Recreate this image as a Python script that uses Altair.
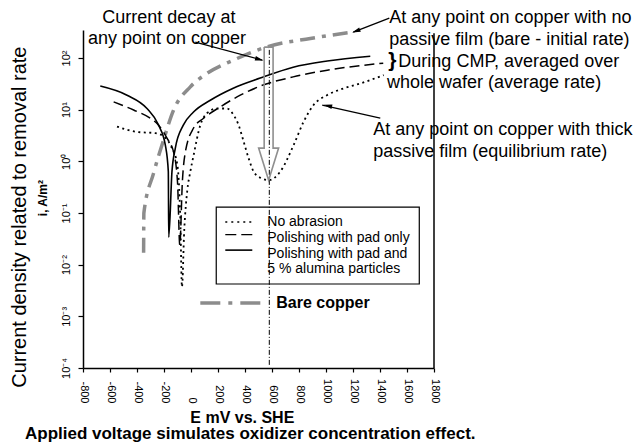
import altair as alt
import pandas as pd

FONT = "Liberation Sans"

# ---------------- data (E in mV vs. SHE, i in A/m^2) ----------------
E_no_abrasion = [-548, -400, -264, -200, -150, -101, -79, -67, -50, -27, -5, 19, 69, 118, 193, 267,
                 316, 353, 390, 427, 464, 520, 575, 661, 760, 834, 908, 1007, 1130, 1254, 1427]
i_no_abrasion = [4.7, 3.7, 3.5, 3.0, 2.0, 0.85, 0.073, 0.0037, 0.047, 0.28, 0.63, 1.3, 5.0, 8.5, 10.5, 10.5,
                 7.8, 5.0, 2.4, 1.14, 0.63, 0.47, 0.43, 0.63, 2.05, 5.8, 12.3, 19, 25.7, 32, 46.5]

E_pad_only = [-573, -425, -301, -240, -178, -129, -100, -83, -64, -42, 19, 93, 217, 365, 513, 757, 1009, 1424]
i_pad_only = [14.1, 9.8, 6.8, 5.0, 2.8, 1.5, 0.4, 0.024, 0.4, 1.5, 4.4, 6.8, 11.3, 19, 28.5, 43, 58, 79]

E_pad_alumina = [-672, -474, -326, -240, -190, -168, -165, -141, -116, -57, 17, 143, 313, 513, 757, 1009, 1328]
i_pad_alumina = [28.5, 19, 10.5, 5.0, 2.05, 0.63, 0.034, 0.63, 1.8, 5.0, 8.9, 15.2, 26, 40.7, 66, 87, 108]

E_bare = [-351, -349, -277, -203, -129, -5, 118, 316, 563, 884, 1202]
i_bare = [0.017, 0.1, 0.59, 2.6, 9.8, 27.6, 50, 91, 164, 238, 318]

x_ticks = list(range(-800, 1801, 200))
y_ticks = [1e-4, 1e-3, 1e-2, 1e-1, 1e0, 1e1, 1e2]
y_tick_labels = ["10⁻⁴", "10⁻³", "10⁻²", "10⁻¹", "10⁰", "10¹", "10²"]

series_names = ["No abrasion", "Polishing with pad only", "Polishing with pad and", "5 % alumina particles"]
bare_name = "Bare copper"

# annotation texts with anchor positions in data units (E, i)
notes_center = [("Current decay at", -164, 470), ("any point on copper", -178, 185)]
notes_left = [
    ("At any point on copper with no", 1469, 470),
    ("passive film (bare - initial rate)", 1469, 177),
    ("During CMP, averaged over", 1536, 67.3),
    ("whole wafer (average rate)", 1452, 25.7),
    ("At any point on copper with thick", 1350, 3.21),
    ("passive film (equilibrium rate)", 1350, 1.22),
]
brace = [("}", 1462, 66)]
# arrows: start, tip, head centre and head angle
arrow_lines = [
    (1, 32, 202), (1, 528, 90.6),
    (2, 1469, 589), (2, 1202, 315),
    (3, 1402, 6.86), (3, 972, 12.2),
]
arrow_heads = [(506, 94, 105), (1223, 331, 249), (1014, 11.9, 283)]

# hollow "current decay" arrow outline
decay_E = [542, 542, 501, 575, 649, 608, 608, 542]
decay_i = [162, 1.8, 1.8, 0.43, 1.8, 1.8, 162, 162]

# ---------------- scales / axes ----------------
xs = alt.Scale(domain=[-800, 1800], nice=False, zero=False)
ys = alt.Scale(type="log", domain=[1e-4, 347], nice=False)

label_arr = "[" + ",".join("'%s'" % s for s in y_tick_labels) + "]"

xaxis = alt.Axis(values=x_ticks, labelExpr="datum.value + ''", labelAngle=90, labelAlign="right",
                 labelBaseline="middle", labelPadding=31, tickSize=4, tickColor="black",
                 domainColor="black", domainWidth=1.5, tickWidth=1.2, labelFont=FONT, labelFontSize=11,
                 labelColor="black", grid=False, title=None, labelOverlap=False, labelFlush=False)
yaxis = alt.Axis(values=y_ticks, labelExpr=label_arr + "[round(log(datum.value)/LN10)+4]",
                 labelAngle=270, labelAlign="center", labelBaseline="bottom", labelPadding=7,
                 tickSize=5, tickColor="black", domainColor="black", domainWidth=1.5, tickWidth=1.2,
                 labelFont=FONT, labelFontSize=11, labelColor="black", grid=False, title=None,
                 labelOverlap=False, labelFlush=False)


def X(f="E"):
    return alt.X(f + ":Q", scale=xs, axis=xaxis)


def Y(f="i"):
    return alt.Y(f + ":Q", scale=ys, axis=yaxis)


def curve(E, I, color, width, dash=None, interp="monotone"):
    df = pd.DataFrame({"E": E, "i": I, "k": list(range(len(E)))})
    kw = dict(color=color, strokeWidth=width, interpolate=interp)
    if dash is not None:
        kw["strokeDash"] = dash
    return alt.Chart(df).mark_line(**kw).encode(x=X(), y=Y(), order="k:Q")


def texts(rows, **kw):
    df = pd.DataFrame(rows, columns=["t", "E", "i"])
    return alt.Chart(df).mark_text(font=FONT, color="black", **kw).encode(x=X(), y=Y(), text="t:N")


def hseg(E1, E2, I, color, width, dash=None):
    df = pd.DataFrame({"E": [E1], "E2": [E2], "i": [I]})
    kw = dict(color=color, strokeWidth=width)
    if dash is not None:
        kw["strokeDash"] = dash
    return alt.Chart(df).mark_rule(**kw).encode(x=X(), x2="E2:Q", y=Y())


layers = []

# frame at right & vertical guide
layers.append(alt.Chart(pd.DataFrame({"E": [1800], "i": [1e-4], "i2": [300]})).mark_rule(
    color="black", strokeWidth=1.5).encode(x=X(), y=Y(), y2="i2:Q"))
layers.append(alt.Chart(pd.DataFrame({"E": [580], "i": [1.15e-4], "i2": [165]})).mark_rule(
    color="black", strokeWidth=1, strokeDash=[5, 2, 1, 2]).encode(x=X(), y=Y(), y2="i2:Q"))

# curves
layers.append(curve(E_bare, i_bare, "#8c8c8c", 3.5, [15, 7, 4, 7]))
layers.append(curve(E_no_abrasion, i_no_abrasion, "black", 1.8, [2, 3.5]))
layers.append(curve(E_pad_only, i_pad_only, "black", 1.5, [10, 5]))
layers.append(curve(E_pad_alumina, i_pad_alumina, "black", 1.6))

# hollow arrow
layers.append(curve(decay_E, decay_i, "#8f8f8f", 1.6, interp="linear"))

# legend box
layers.append(alt.Chart(pd.DataFrame({"E": [187], "E2": [1691], "i": [0.13], "i2": [0.00422]})).mark_rect(
    fillOpacity=0, stroke="black", strokeWidth=1.2).encode(x=X(), x2="E2:Q", y=Y(), y2="i2:Q"))
layers.append(hseg(254, 454, 0.0667, "black", 1.5, [2, 4]))
layers.append(hseg(254, 454, 0.0382, "black", 1.2, [11, 5]))
layers.append(hseg(254, 454, 0.0191, "black", 1.6))
layers.append(texts([(series_names[0], 565, 0.0667), (series_names[1], 565, 0.0327),
                     (series_names[2], 565, 0.016), (series_names[3], 565, 0.0082)],
                    fontSize=14, align="left", baseline="middle"))
layers.append(hseg(69, 528, 0.00181, "#8c8c8c", 3.5, [20, 8, 4, 8]))
layers.append(texts([(bare_name, 632, 0.00181)], fontSize=16, fontWeight="bold", align="left",
                    baseline="middle"))

# annotations
layers.append(texts(notes_center, fontSize=18, align="center", baseline="alphabetic"))
layers.append(texts(notes_left, fontSize=18, align="left", baseline="alphabetic"))
layers.append(texts(brace, fontSize=21, fontWeight="bold", align="left", baseline="alphabetic"))
layers.append(alt.Chart(pd.DataFrame(arrow_lines, columns=["a", "E", "i"])).mark_line(
    color="black", strokeWidth=1.3).encode(x=X(), y=Y(), detail="a:N"))
layers.append(alt.Chart(pd.DataFrame(arrow_heads, columns=["E", "i", "ang"])).mark_point(
    shape="M0,-1L0.55,1L-0.55,1Z", filled=True, color="black", opacity=1, size=70).encode(
    x=X(), y=Y(), angle=alt.Angle("ang:Q", scale=None)))

# axis titles
layers.append(texts([("Current density related to removal rate", -1264, 0.083)], fontSize=20,
                    angle=270, align="center", baseline="middle"))
layers.append(texts([("i, A/m²", -1094, 0.194)], fontSize=12, fontWeight="bold", angle=270,
                    align="center", baseline="middle"))
layers.append(texts([("E mV vs. SHE", 380, 1.1e-5)], fontSize=16, fontWeight="bold",
                    align="center", baseline="middle"))
layers.append(texts([("Applied voltage simulates oxidizer concentration effect.", 439, 5.3e-6)],
                    fontSize=17, fontWeight="bold", align="center", baseline="middle"))

chart = alt.layer(*layers).properties(
    width=351, height=338, autosize="none",
    padding={"left": 75, "top": 22, "right": 200, "bottom": 78},
    background="white",
).configure_view(stroke=None)

chart.save("out.html", embed_options={"renderer": "svg", "actions": False})
